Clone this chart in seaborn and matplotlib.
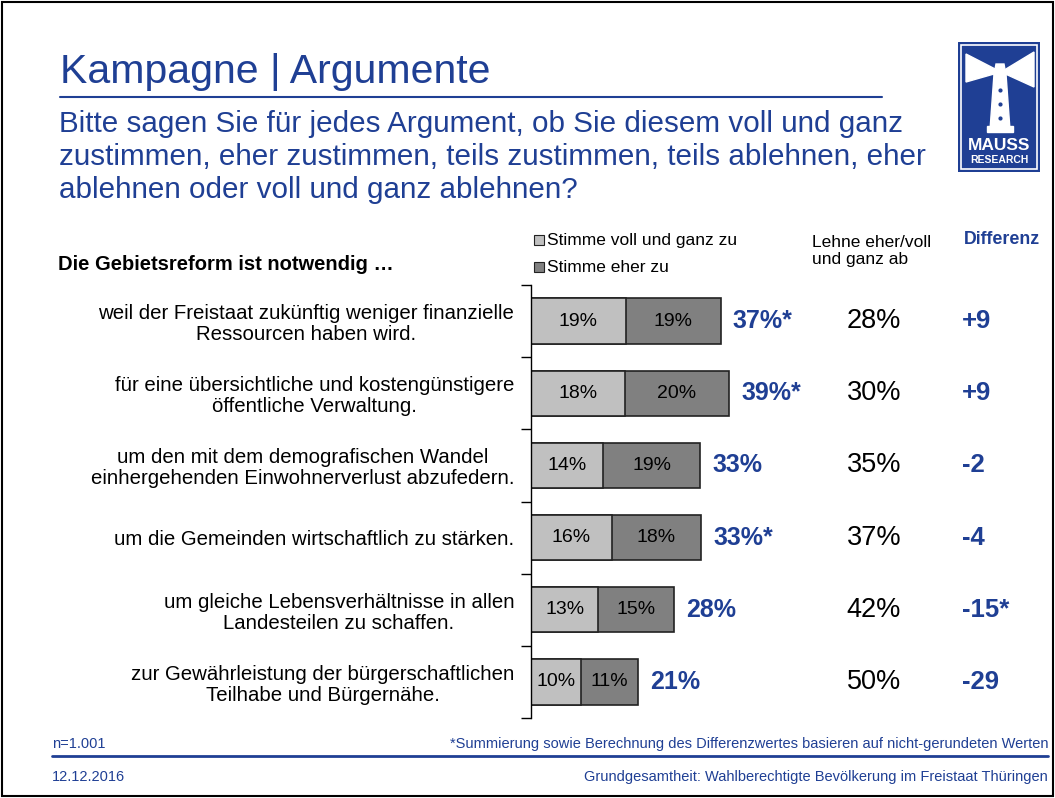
import numpy as np
import pandas as pd
import matplotlib.pyplot as plt
import seaborn as sns
from matplotlib.patches import Rectangle, Polygon

sns.set_theme(style="white")
plt.rcParams["font.family"] = ["Liberation Sans", "DejaVu Sans"]
plt.rcParams["text.color"] = "black"
plt.rcParams["ytick.color"] = "black"
plt.rcParams["ytick.labelcolor"] = "black"

BLUE = "#1F3F94"
LIGHT = "#C0C0C0"
DARK = "#808080"

categories = [
    "weil der Freistaat zukünftig weniger finanzielle\nRessourcen haben wird.",
    "für eine übersichtliche und kostengünstigere\nöffentliche Verwaltung.",
    "um den mit dem demografischen Wandel\neinhergehenden Einwohnerverlust abzufedern.",
    "um die Gemeinden wirtschaftlich zu stärken.",
    "um gleiche Lebensverhältnisse in allen\nLandesteilen zu schaffen.",
    "zur Gewährleistung der bürgerschaftlichen\nTeilhabe und Bürgernähe.",
]
voll = [18.6, 18.4, 14.2, 15.8, 13.2, 9.8]
eher = [18.6, 20.4, 19.0, 17.6, 14.9, 11.2]
star = [True, True, False, True, False, False]
ablehnen = [28, 30, 35, 37, 42, 50]
differenz = ["+9", "+9", "-2", "-4", "-15*", "-29"]

df = pd.DataFrame({"cat": categories, "voll": voll, "eher": eher})
df["total"] = df["voll"] + df["eher"]

W, H = 1055, 798
fig = plt.figure(figsize=(W / 100, H / 100), dpi=100)


def fx(x):
    return x / W


def fy(y):
    return 1 - y / H


# frame
fig.patches.append(Rectangle((0.002, 0.002), 0.996, 0.996, transform=fig.transFigure,
                             fill=False, edgecolor="black", linewidth=1.5))

# title block
fig.text(fx(60), fy(72), "Kampagne | Argumente", fontsize=29.5, color=BLUE, va="center")
fig.add_artist(plt.Line2D([fx(60), fx(882)], [fy(97), fy(97)], color=BLUE, lw=1.5))
subtitle = ["Bitte sagen Sie für jedes Argument, ob Sie diesem voll und ganz",
            "zustimmen, eher zustimmen, teils zustimmen, teils ablehnen, eher",
            "ablehnen oder voll und ganz ablehnen?"]
for i, line in enumerate(subtitle):
    fig.text(fx(59), fy(124 + i * 33), line, fontsize=21.3, color=BLUE, va="center")

# logo
logo = fig.add_axes([fx(958), fy(172), fx(1040) - fx(958), fy(42) - fy(172)])
logo.set_xlim(0, 82)
logo.set_ylim(130, 0)
logo.axis("off")
logo.add_patch(Rectangle((0, 0), 82, 130, color=BLUE))
logo.add_patch(Rectangle((3, 3), 76, 124, fill=False, edgecolor="white", lw=1.2))
logo.add_patch(Polygon([(43, 30), (8, 12), (8, 40)], color="white"))
logo.add_patch(Polygon([(43, 30), (76, 10), (76, 45)], color="white"))
logo.add_patch(Polygon([(36, 32), (48, 32), (52, 88), (32, 88)], color="white"))
logo.add_patch(Polygon([(38, 22), (46, 22), (48, 33), (36, 33)], color="white"))
logo.add_patch(Rectangle((29, 84), 26, 6, color="white"))
for yy in [48, 62, 76]:
    logo.plot(42, yy, "o", color=BLUE, ms=2)
logo.text(41, 104, "MAUSS", color="white", fontsize=12.5, fontweight="bold", ha="center", va="center")
logo.text(41, 118, "RESEARCH", color="white", fontsize=7.5, fontweight="bold", ha="center", va="center")

# header row
fig.text(fx(58), fy(265), "Die Gebietsreform ist notwendig …", fontsize=14.5,
         fontweight="bold", va="center")
for yy, col, lab in [(240, LIGHT, "Stimme voll und ganz zu"), (267, DARK, "Stimme eher zu")]:
    fig.patches.append(Rectangle((fx(534), fy(yy + 5)), fx(10), 10 / H, transform=fig.transFigure,
                                 facecolor=col, edgecolor="#222222", lw=0.8))
    fig.text(fx(547), fy(yy), lab, fontsize=12.5, va="center")
fig.text(fx(812), fy(251), "Lehne eher/voll\nund ganz ab", fontsize=12.5, va="center",
         linespacing=1.15)
fig.text(fx(964), fy(240), "Differenz", fontsize=12.8, fontweight="bold", color=BLUE, va="center")

# chart
ax = fig.add_axes([fx(531), fy(718), fx(1040) - fx(531), fy(285) - fy(718)])
sns.barplot(data=df, x="total", y="cat", orient="h", color=DARK, width=0.63,
            edgecolor="#222222", linewidth=1.2, saturation=1, ax=ax)
sns.barplot(data=df, x="voll", y="cat", orient="h", color=LIGHT, width=0.63,
            edgecolor="#222222", linewidth=1.2, saturation=1, ax=ax)
ax.set_xlim(0, (1040 - 531) / 5.1)
ax.set_ylim(len(categories) - 0.5, -0.5)
ax.set_xlabel("")
ax.set_ylabel("")
ax.set_xticks([])
ax.set_yticks(range(len(categories)))
ax.set_yticklabels(categories, fontsize=14.7, ha="right", linespacing=1.12, color="black")
ax.set_yticks(np.arange(-0.5, len(categories)), minor=True)
ax.tick_params(axis="y", which="major", length=0, pad=12)
ax.tick_params(axis="y", which="minor", left=True, length=7, width=1, color="black", direction="out")
for lbl in ax.get_yticklabels():
    lbl.set_multialignment("center")
for s in ["top", "right", "bottom"]:
    ax.spines[s].set_visible(False)
ax.spines["left"].set_color("black")
ax.spines["left"].set_linewidth(1)
ax.patch.set_alpha(0)

for i, row in df.iterrows():
    ax.text(row["voll"] / 2, i, f"{row['voll']:.0f}%", ha="center", va="center", fontsize=14)
    ax.text(row["voll"] + row["eher"] / 2, i, f"{row['eher']:.0f}%", ha="center", va="center",
            fontsize=14)
    lab = f"{row['total']:.0f}%" + ("*" if star[i] else "")
    ax.text(row["total"] + 2.4, i, lab, ha="left", va="center", fontsize=18,
            fontweight="bold", color=BLUE)
    ax.text(67.2, i, f"{ablehnen[i]}%", ha="center", va="center", fontsize=19.5)
    ax.text(84.5, i, differenz[i], ha="left", va="center", fontsize=18.5,
            fontweight="bold", color=BLUE)

# footer
fig.text(fx(52), fy(744), "n=1.001", fontsize=10.5, color=BLUE, va="center")
fig.text(fx(1048), fy(744),
         "*Summierung sowie Berechnung des Differenzwertes basieren auf nicht-gerundeten Werten",
         fontsize=10.5, color=BLUE, va="center", ha="right")
fig.add_artist(plt.Line2D([fx(52), fx(1048)], [fy(756), fy(756)], color=BLUE, lw=2))
fig.text(fx(52), fy(777), "12.12.2016", fontsize=10.5, color=BLUE, va="center")
fig.text(fx(1048), fy(777), "Grundgesamtheit: Wahlberechtigte Bevölkerung im Freistaat Thüringen",
         fontsize=10.5, color=BLUE, va="center", ha="right")

fig.savefig("out.png", dpi=100)
